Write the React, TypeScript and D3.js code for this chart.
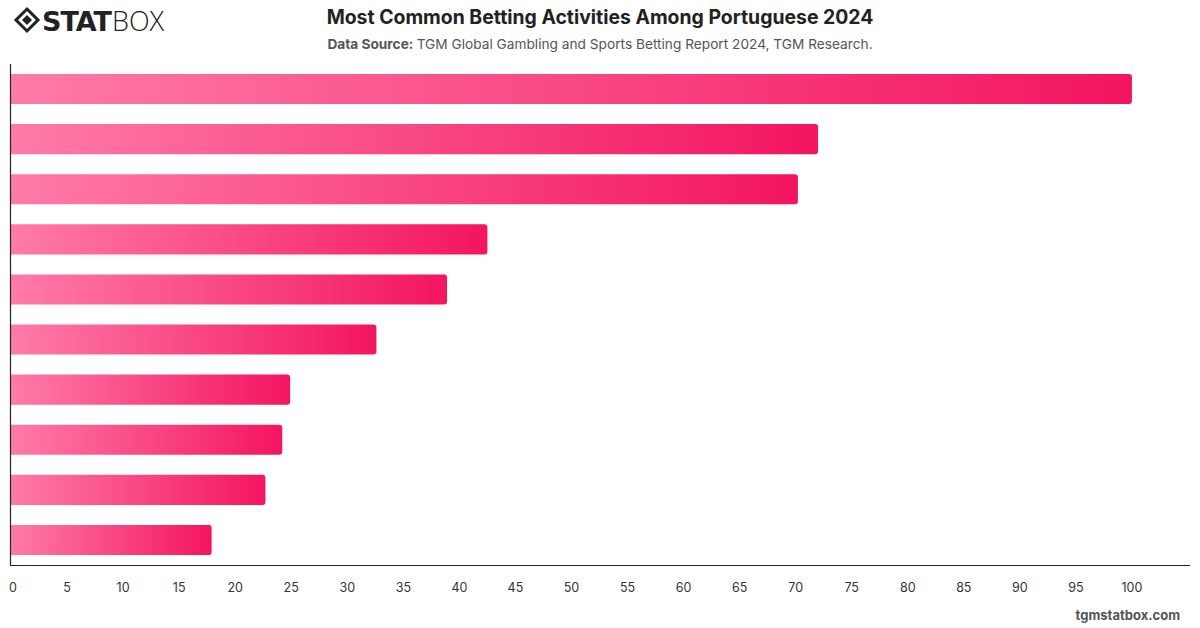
import React from "react";
import * as d3 from "d3";

const categories = [
  "Activity 1",
  "Activity 2",
  "Activity 3",
  "Activity 4",
  "Activity 5",
  "Activity 6",
  "Activity 7",
  "Activity 8",
  "Activity 9",
  "Activity 10",
];
const values = [100, 72, 70.2, 42.5, 38.9, 32.6, 24.9, 24.2, 22.7, 17.9];
const tickValues = [0, 5, 10, 15, 20, 25, 30, 35, 40, 45, 50, 55, 60, 65, 70, 75, 80, 85, 90, 95, 100];

const W = 1200;
const H = 628;
const plot = { left: 11, right: 1188, top: 64, bottom: 565 };

export default function App() {
  const x = d3.scaleLinear().domain([0, 105]).range([plot.left, plot.right]);
  const y = d3
    .scaleBand<string>()
    .domain(categories)
    .range([plot.top, plot.bottom])
    .paddingInner(0.4)
    .paddingOuter(0.2);

  const font = "Inter, 'Helvetica Neue', Arial, sans-serif";
  const r = 3;

  const barPath = (v: number, cat: string) => {
    const x0 = x(0);
    const x1 = x(v);
    const y0 = y(cat)!;
    const h = y.bandwidth();
    const p = d3.path();
    p.moveTo(x0, y0);
    p.lineTo(x1 - r, y0);
    p.quadraticCurveTo(x1, y0, x1, y0 + r);
    p.lineTo(x1, y0 + h - r);
    p.quadraticCurveTo(x1, y0 + h, x1 - r, y0 + h);
    p.lineTo(x0, y0 + h);
    p.closePath();
    return p.toString();
  };

  return (
    <svg
      width={W}
      height={H}
      style={{ position: "absolute", left: 0, top: 0, background: "#fff" }}
      fontFamily={font}
    >
      <defs>
        <linearGradient id="barGrad" x1="0" y1="0" x2="1" y2="0">
          <stop offset="0%" stopColor="#ff7ba8" />
          <stop offset="100%" stopColor="#f3155f" />
        </linearGradient>
      </defs>

      {/* logo */}
      <g transform="translate(27,20)">
        <path d="M0,-11 L11,0 L0,11 L-11,0 Z" fill="none" stroke="#222" strokeWidth={3} />
        <path d="M0,-5 L5,0 L0,5 L-5,0 Z" fill="#222" />
      </g>
      <text x={42} y={31} fontSize={27} fontWeight={900} fill="#222" fontFamily="'DejaVu Sans', Arial, sans-serif" letterSpacing={-1}>
        STAT
      </text>
      <text x={112} y={31} fontSize={27} fontWeight={300} fill="#222" fontFamily="'Open Sans', Arial, sans-serif">
        BOX
      </text>

      {/* titles */}
      <text x={600} y={24} textAnchor="middle" fontSize={19.4} fontWeight={700} fill="#222">
        Most Common Betting Activities Among Portuguese 2024
      </text>
      <text x={600} y={49} textAnchor="middle" fontSize={13.7} fill="#555">
        <tspan fontWeight={700}>Data Source: </tspan>
        TGM Global Gambling and Sports Betting Report 2024, TGM Research.
      </text>

      {/* bars */}
      {categories.map((c, i) => (
        <path key={c} d={barPath(values[i], c)} fill="url(#barGrad)" />
      ))}

      {/* axes */}
      <line x1={plot.left - 0.5} x2={plot.left - 0.5} y1={plot.top} y2={plot.bottom} stroke="#222" strokeWidth={1.2} />
      <line x1={plot.left - 1} x2={plot.right + 2} y1={plot.bottom + 0.5} y2={plot.bottom + 0.5} stroke="#222" strokeWidth={1.2} />
      {tickValues.map((t) => (
        <text
          key={t}
          x={t === 0 ? x(t) + 2 : x(t)}
          y={592}
          textAnchor="middle"
          fontSize={12.5}
          fill="#333"
        >
          {t}
        </text>
      ))}

      <text x={1180} y={620} textAnchor="end" fontSize={13} fontWeight={700} fill="#555">
        tgmstatbox.com
      </text>
    </svg>
  );
}
